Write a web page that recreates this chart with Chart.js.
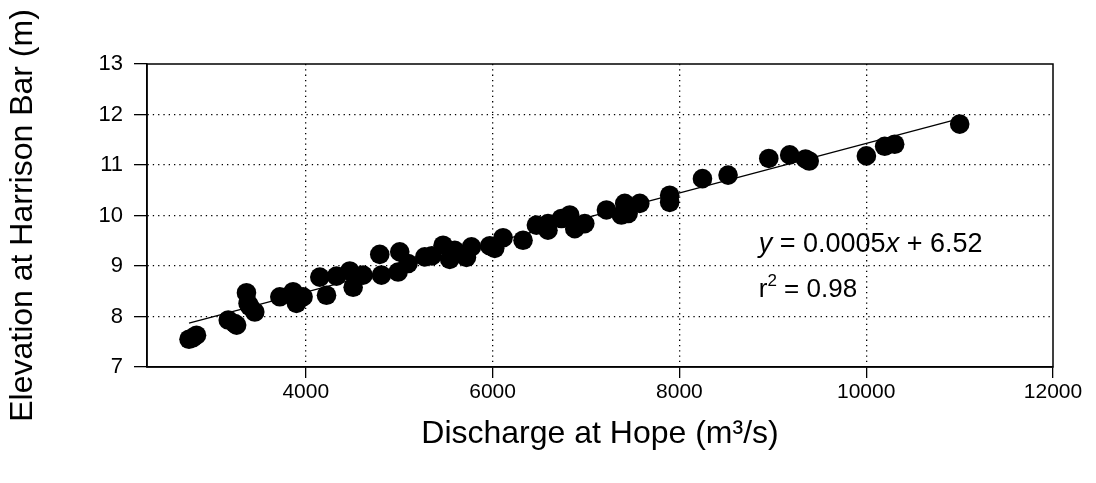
<!DOCTYPE html>
<html>
<head>
<meta charset="utf-8">
<script src="https://cdn.jsdelivr.net/npm/chart.js@4"></script>
<style>
  body { margin: 0; background: #fff; }
</style>
</head>
<body>
<canvas id="chart" width="1096" height="483"></canvas>
<script>
// discharge at Hope (m3/s) and water level at Harrison Bar (m)
const discharge = [
  2750, 2790, 2830, 3170, 3240, 3260, 3365, 3382, 3400, 3454,
  3722, 3864, 3900, 3971, 4150, 4222, 4329, 4471, 4507, 4613,
  4792, 4810, 4988, 5006, 5095, 5274, 5350, 5470, 5541, 5595,
  5720, 5774, 5970, 6023, 6112, 6326, 6469, 6593, 6593, 6737,
  6826, 6880, 6987, 7219, 7379, 7415, 7451, 7576, 7896, 7896,
  8247, 8521, 8957, 9181, 9350, 9390, 10002, 10198, 10305, 11001
];
const elevation = [
  7.55, 7.58, 7.63, 7.93, 7.86, 7.83, 8.47, 8.26, 8.20, 8.09,
  8.39, 8.49, 8.26, 8.39, 8.78, 8.42, 8.80, 8.90, 8.58, 8.82,
  9.23, 8.82, 8.88, 9.28, 9.05, 9.18, 9.20, 9.41, 9.13, 9.31,
  9.17, 9.38, 9.40, 9.35, 9.56, 9.51, 9.81, 9.71, 9.84, 9.94,
  10.01, 9.74, 9.84, 10.11, 10.01, 10.24, 10.04, 10.24, 10.40, 10.26,
  10.73, 10.80, 11.13, 11.20, 11.12, 11.08, 11.18, 11.37, 11.41, 11.81
];

// regression line end points
const fitX = [2750, 11000];
const fitY = [7.87, 11.92];

const xTicks = [4000, 6000, 8000, 10000, 12000];
const yTicks = [7, 8, 9, 10, 11, 12, 13];

const FONT = "'Liberation Sans', Arial, sans-serif";

const frame = {
  id: 'frame',
  afterDatasetsDraw(chart) {
    const { ctx, chartArea: a } = chart;
    ctx.save();
    ctx.strokeStyle = '#000';
    ctx.lineWidth = 1.5;
    ctx.strokeRect(a.left, a.top, a.right - a.left, a.bottom - a.top);
    ctx.restore();
  }
};

// equation text, positioned in data units
const equation = {
  id: 'equation',
  afterDraw(chart) {
    const { ctx } = chart;
    const x = chart.scales.x.getPixelForValue(8850);
    const y1 = chart.scales.y.getPixelForValue(9.27);
    const y2 = chart.scales.y.getPixelForValue(8.38);
    const size = 26;
    ctx.save();
    ctx.fillStyle = '#000';
    ctx.textBaseline = 'alphabetic';
    ctx.textAlign = 'left';
    let cx = x;
    const part = (txt, style, sz) => {
      ctx.font = style + ' ' + sz + 'px ' + FONT;
      ctx.fillText(txt, cx, y1);
      cx += ctx.measureText(txt).width;
    };
    part('y', 'italic', 27);
    part(' = 0.0005', 'normal', 27);
    part('x', 'italic', 27);
    part(' + 6.52', 'normal', 27);

    cx = x;
    ctx.font = 'normal ' + size + 'px ' + FONT;
    ctx.fillText('r', cx, y2);
    cx += ctx.measureText('r').width;
    ctx.font = 'normal 17px ' + FONT;
    ctx.fillText('2', cx, y2 - 11);
    cx += ctx.measureText('2').width;
    ctx.font = 'normal ' + size + 'px ' + FONT;
    ctx.fillText(' = 0.98', cx, y2);
    ctx.restore();
  }
};

const edgeColor = (edges) => (c) =>
  (c.tick && edges.includes(c.tick.value)) ? 'rgba(0,0,0,0)' : '#000';

new Chart(document.getElementById('chart'), {
  type: 'scatter',
  data: {
    datasets: [
      {
        label: 'Observed',
        data: discharge.map((d, i) => ({ x: d, y: elevation[i] })),
        backgroundColor: '#000',
        borderColor: '#000',
        borderWidth: 0,
        pointRadius: 9.8,
        order: 1
      },
      {
        type: 'line',
        label: 'Fit',
        data: fitX.map((d, i) => ({ x: d, y: fitY[i] })),
        borderColor: '#000',
        borderWidth: 1.3,
        pointRadius: 0,
        fill: false,
        order: 2
      }
    ]
  },
  options: {
    responsive: false,
    animation: false,
    layout: { padding: { left: 0, top: 64, right: 43, bottom: 0 } },
    plugins: { legend: { display: false }, tooltip: { enabled: false } },
    scales: {
      x: {
        type: 'linear',
        min: 2300,
        max: 12000,
        afterBuildTicks: (s) => { s.ticks = xTicks.map(v => ({ value: v })); },
        afterFit: (s) => { s.height = 116; },
        grid: {
          color: edgeColor([12000]),
          tickColor: '#000',
          tickLength: 11,
          tickWidth: 1.3,
          tickBorderDash: [],
          lineWidth: 1.3
        },
        border: { display: true, color: '#000', width: 1.5, dash: [1.3, 4] },
        ticks: {
          color: '#000',
          padding: 2,
          maxRotation: 0,
          callback: (v) => String(v),
          font: { family: FONT, size: 21 }
        },
        title: {
          display: true,
          text: 'Discharge at Hope (m³/s)',
          color: '#000',
          font: { family: FONT, size: 32 },
          padding: { top: 0, bottom: 30 }
        }
      },
      y: {
        min: 7,
        max: 13,
        afterBuildTicks: (s) => { s.ticks = yTicks.map(v => ({ value: v })); },
        afterFit: (s) => { s.width = 147; },
        grid: {
          color: edgeColor([7, 13]),
          tickColor: '#000',
          tickLength: 13,
          tickWidth: 1.3,
          tickBorderDash: [],
          lineWidth: 1.3
        },
        border: { display: true, color: '#000', width: 1.5, dash: [1.3, 4] },
        ticks: {
          color: '#000',
          padding: 11,
          font: { family: FONT, size: 22 }
        },
        title: {
          display: true,
          text: 'Elevation at Harrison Bar (m)',
          color: '#000',
          font: { family: FONT, size: 32 },
          padding: { top: 4, bottom: 0 }
        }
      }
    }
  },
  plugins: [frame, equation]
});
</script>
</body>
</html>
